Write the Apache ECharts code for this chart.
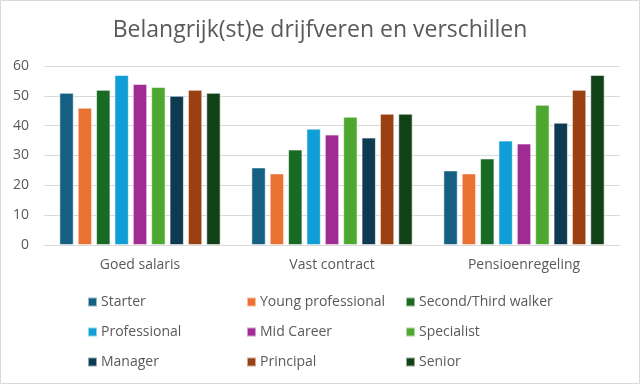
<!DOCTYPE html>
<html>
<head>
<meta charset="utf-8">
<script src="https://cdn.jsdelivr.net/npm/echarts@6/dist/echarts.min.js"></script>
<style>
html,body{margin:0;padding:0;background:#fff;}
#chart{width:640px;height:384px;}
</style>
</head>
<body>
<div id="chart"></div>
<script>
const titleText = 'Belangrijk(st)e drijfveren en verschillen';
const categories = ['Goed salaris', 'Vast contract', 'Pensioenregeling'];
const seriesNames = ['Starter', 'Young professional', 'Second/Third walker', 'Professional', 'Mid Career', 'Specialist', 'Manager', 'Principal', 'Senior'];
const starter = [51, 26, 25];
const youngProfessional = [46, 24, 24];
const secondThirdWalker = [52, 32, 29];
const professional = [57, 39, 35];
const midCareer = [54, 37, 34];
const specialist = [53, 43, 47];
const manager = [50, 36, 41];
const principal = [52, 44, 52];
const senior = [51, 44, 57];
const seriesValues = [starter, youngProfessional, secondThirdWalker, professional, midCareer, specialist, manager, principal, senior];
const colors = ['#156082', '#E97132', '#196B24', '#0F9ED5', '#A02B93', '#4EA72E', '#0D3A50', '#9A4013', '#124118'];
const yTicks = [0, 10, 20, 30, 40, 50, 60];

const font = "'Open Sans', 'Noto Sans', sans-serif";
const textColor = '#595959';

const legendCols = [[0, 3, 6], [1, 4, 7], [2, 5, 8]];
const legendLeft = [87, 246, 405];

const chart = echarts.init(document.getElementById('chart'), null, {renderer: 'canvas'});
chart.setOption({
  animation: false,
  color: colors,
  graphic: [{
    type: 'rect', silent: true,
    shape: {x: 0.5, y: 0.5, width: 639, height: 383},
    style: {fill: 'none', stroke: '#d9d9d9', lineWidth: 1}
  }],
  title: {
    text: titleText,
    left: 'center',
    top: 14,
    textStyle: {fontFamily: font, fontSize: 23, fontWeight: 'normal', color: textColor}
  },
  legend: legendCols.map((col, i) => ({
    orient: 'vertical',
    left: legendLeft[i],
    top: 294,
    padding: 0,
    itemWidth: 9,
    itemHeight: 9,
    itemGap: 14,
    icon: 'rect',
    data: col.map(k => seriesNames[k]),
    textStyle: {fontFamily: font, fontSize: 14, color: textColor, lineHeight: 16, padding: [0, 0, 0, -1]}
  })),
  grid: {left: 44, right: 20, top: 66, bottom: 139, containLabel: false},
  xAxis: {
    type: 'category',
    data: categories,
    axisLine: {show: true, lineStyle: {color: '#d9d9d9'}},
    axisTick: {show: false},
    axisLabel: {fontFamily: font, fontSize: 14, color: textColor, margin: 13}
  },
  yAxis: {
    type: 'value',
    min: 0, max: 60, interval: 10,
    axisLine: {show: false},
    axisTick: {show: false},
    splitLine: {lineStyle: {color: '#d9d9d9', width: 1}},
    axisLabel: {fontFamily: font, fontSize: 14, color: textColor, margin: 15,
      formatter: v => yTicks.includes(v) ? String(v) : ''}
  },
  series: seriesNames.map((name, i) => ({
    name: name,
    type: 'bar',
    data: seriesValues[i],
    barGap: '28%',
    barCategoryGap: '16%',
    itemStyle: {color: colors[i], borderColor: 'rgba(255,255,255,0.55)', borderWidth: 1}
  }))
});
</script>
</body>
</html>
